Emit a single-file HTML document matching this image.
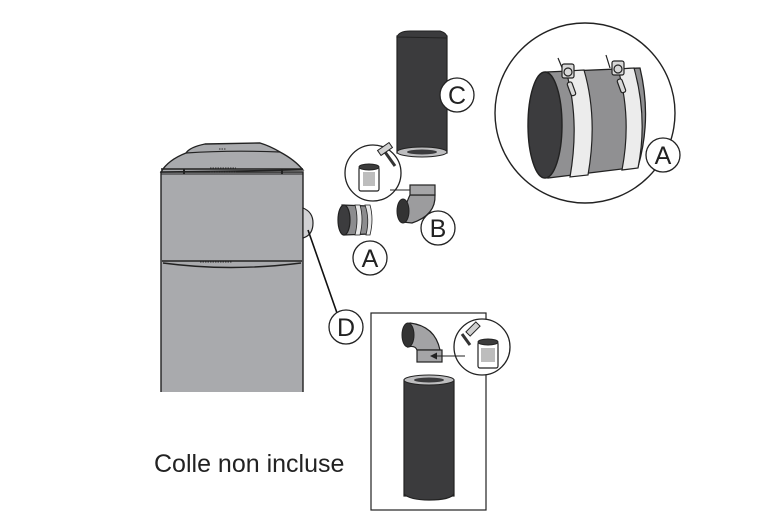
<!DOCTYPE html>
<html><head><meta charset="utf-8"><style>
html,body{margin:0;padding:0;background:#fff;}
svg{display:block;}
text{font-family:"Liberation Sans",Arial,sans-serif;}
</style></head><body>
<svg width="784" height="526" viewBox="0 0 784 526" xmlns="http://www.w3.org/2000/svg">
<rect width="784" height="526" fill="#fff"/>

<!-- Tank -->
<g stroke="#222" stroke-width="1.4">
  <path d="M161,392 L161,172 L303,172 L303,392" fill="#a9aaad"/>
  <path d="M161,172 Q168,160 186,153 Q190,147 205,144 L260,143 Q270,146 280,152 Q295,160 303,170 Z" fill="#a9aaad"/>
  <path d="M186,153 Q230,150 280,152" fill="none" stroke-width="1.2"/>
  <line x1="161" y1="169" x2="303" y2="169"/>
  <line x1="161" y1="174" x2="303" y2="174" stroke-width="1"/>
  <path d="M162,261 L302,261" fill="none"/>
  <path d="M163,263 Q230,272 301,263" fill="none"/>
</g>
<rect x="183" y="169" width="2" height="5" fill="#222"/>
<rect x="281" y="169" width="2" height="5" fill="#222"/>
<line x1="210" y1="172" x2="236" y2="172" stroke="#333" stroke-width="1" stroke-dasharray="1.5,1"/>
<line x1="210" y1="168" x2="236" y2="168" stroke="#333" stroke-width="1" stroke-dasharray="1.5,1"/>
<line x1="200" y1="262" x2="232" y2="262" stroke="#333" stroke-width="1" stroke-dasharray="1.5,1"/>
<line x1="219" y1="149" x2="226" y2="149" stroke="#333" stroke-width="1" stroke-dasharray="1.5,1"/>
<!-- side port -->
<path d="M303,208 Q313,212 313,223 Q313,235 303,238 Z" fill="#d2d2d4" stroke="#222" stroke-width="1.2"/>
<!-- leader -->
<line x1="308" y1="230" x2="337" y2="313" stroke="#111" stroke-width="1.6"/>

<!-- Pipe C -->
<rect x="397" y="36" width="50" height="117" fill="#3b3b3d" stroke="#222" stroke-width="1.2"/>
<path d="M397,37 Q399,31 410,31 L440,31 Q447,33 447,38 Z" fill="#3b3b3d" stroke="#222" stroke-width="1"/>
<ellipse cx="422" cy="152" rx="25" ry="5" fill="#bdbdbf" stroke="#222" stroke-width="1"/>
<ellipse cx="422" cy="152" rx="15" ry="2.5" fill="#3b3b3d"/>

<!-- Big detail circle -->
<circle cx="585" cy="113" r="90" fill="#fff" stroke="#222" stroke-width="1.4"/>
<path d="M546,72 L640,68 Q652,118 638,167 L548,178 Z" fill="#909092" stroke="#222" stroke-width="1.3"/>
<path d="M566,71 Q580,120 570,177 L588,175 Q598,118 584,70 Z" fill="#ececec" stroke="#222" stroke-width="1.2"/>
<path d="M618,69 Q632,118 622,170 L638,168 Q648,118 634,68 Z" fill="#ececec" stroke="#222" stroke-width="1.2"/>
<ellipse cx="545" cy="125" rx="17" ry="53" fill="#3c3c3e" stroke="#222" stroke-width="1.4"/>
<!-- clamp screws -->
<g stroke="#222" stroke-width="1.2" fill="#d8d8d8">
  <line x1="558" y1="58" x2="563" y2="70"/>
  <line x1="606" y1="55" x2="610" y2="68"/>
  <rect x="562" y="64" width="12" height="14" rx="2"/>
  <circle cx="568" cy="72" r="4"/>
  <rect x="612" y="61" width="12" height="14" rx="2"/>
  <circle cx="618" cy="69" r="4"/>
  <rect x="569" y="82" width="5" height="14" rx="2" transform="rotate(-20 571 89)"/>
  <rect x="619" y="79" width="5" height="14" rx="2" transform="rotate(-20 621 86)"/>
</g>

<!-- Glue circle 1 -->
<circle cx="373" cy="173" r="28" fill="#fff" stroke="#222" stroke-width="1.3"/>
<rect x="359" y="167" width="20" height="24" rx="2" fill="#fff" stroke="#222" stroke-width="1.2"/>
<rect x="363" y="172" width="12" height="14" fill="#bdbdbd"/>
<ellipse cx="369" cy="167" rx="10" ry="3" fill="#3c3c3c" stroke="#222"/>
<line x1="385" y1="152" x2="395" y2="166" stroke="#333" stroke-width="3"/>
<rect x="378" y="146" width="14" height="6" fill="#d0d0d0" stroke="#222" stroke-width="1" transform="rotate(-35 385 149)"/>
<line x1="390" y1="190" x2="414" y2="190" stroke="#222" stroke-width="1"/>
<path d="M413,186.5 L420,190 L413,193.5 Z" fill="#222"/>

<!-- Elbow B -->
<path d="M410,195 L435,195 Q436,215 412,223 L402,222 Q405,205 410,195 Z" fill="#9c9c9e" stroke="#222" stroke-width="1.2"/>
<rect x="410" y="185" width="25" height="10" fill="#a5a5a7" stroke="#222" stroke-width="1.2"/>
<ellipse cx="403" cy="211" rx="6" ry="12" fill="#333" stroke="#222"/>

<!-- Small coupling A -->
<path d="M342,205 L368,206 Q374,219 369,234 L344,235 Z" fill="#8c8c8e" stroke="#222" stroke-width="1.2"/>
<path d="M355,205 Q359,219 355,235 L360,235 Q364,219 360,205 Z" fill="#e8e8e8" stroke="#222" stroke-width="0.8"/>
<path d="M365,205 Q370,219 366,235 L370,235 Q374,219 370,205 Z" fill="#e8e8e8" stroke="#222" stroke-width="0.8"/>
<ellipse cx="344" cy="220" rx="6" ry="15" fill="#3c3c3e" stroke="#222" stroke-width="1.2"/>

<!-- Box -->
<rect x="371" y="313" width="115" height="197" fill="none" stroke="#222" stroke-width="1.2"/>
<!-- lower elbow -->
<path d="M410,323 Q435,326 440,350 L417,350 Q415,345 408,347 Z" fill="#a3a3a5" stroke="#222" stroke-width="1.2"/>
<rect x="417" y="350" width="25" height="12" fill="#a5a5a7" stroke="#222" stroke-width="1.2"/>
<ellipse cx="408" cy="335" rx="6" ry="12" fill="#333" stroke="#222"/>
<!-- Glue circle 2 -->
<circle cx="482" cy="347" r="28" fill="#fff" stroke="#222" stroke-width="1.3"/>
<rect x="478" y="342" width="20" height="26" rx="2" fill="#fff" stroke="#222" stroke-width="1.2"/>
<rect x="481" y="348" width="14" height="14" fill="#bdbdbd"/>
<ellipse cx="488" cy="342" rx="10" ry="3" fill="#3c3c3c" stroke="#222"/>
<line x1="470" y1="345" x2="462" y2="334" stroke="#333" stroke-width="3"/>
<rect x="466" y="326" width="14" height="6" fill="#d0d0d0" stroke="#222" stroke-width="1" transform="rotate(-45 473 329)"/>
<line x1="465" y1="356" x2="436" y2="356" stroke="#222" stroke-width="1"/>
<path d="M437,352.5 L430,356 L437,359.5 Z" fill="#222"/>
<!-- lower pipe -->
<rect x="404" y="380" width="50" height="116" fill="#3b3b3d" stroke="#222" stroke-width="1.2"/>
<path d="M404,494 Q410,500 429,500 Q450,500 454,494" fill="#3b3b3d" stroke="#222" stroke-width="1.2"/>
<ellipse cx="429" cy="380" rx="25" ry="5" fill="#bdbdbf" stroke="#222" stroke-width="1"/>
<ellipse cx="429" cy="380" rx="15" ry="2.5" fill="#3b3b3d"/>

<!-- labels -->
<g fill="#fff" stroke="#222" stroke-width="1.3">
  <circle cx="457" cy="95" r="17"/>
  <circle cx="438" cy="228" r="17"/>
  <circle cx="370" cy="258" r="17"/>
  <circle cx="346" cy="327" r="17"/>
  <circle cx="663" cy="155" r="17"/>
</g>
<g font-size="25" fill="#222" text-anchor="middle">
  <text x="457" y="104">C</text>
  <text x="438" y="237">B</text>
  <text x="370" y="267">A</text>
  <text x="346" y="336">D</text>
  <text x="663" y="164">A</text>
</g>
<text x="154" y="472" font-size="25" fill="#222">Colle non incluse</text>
</svg>
</body></html>
